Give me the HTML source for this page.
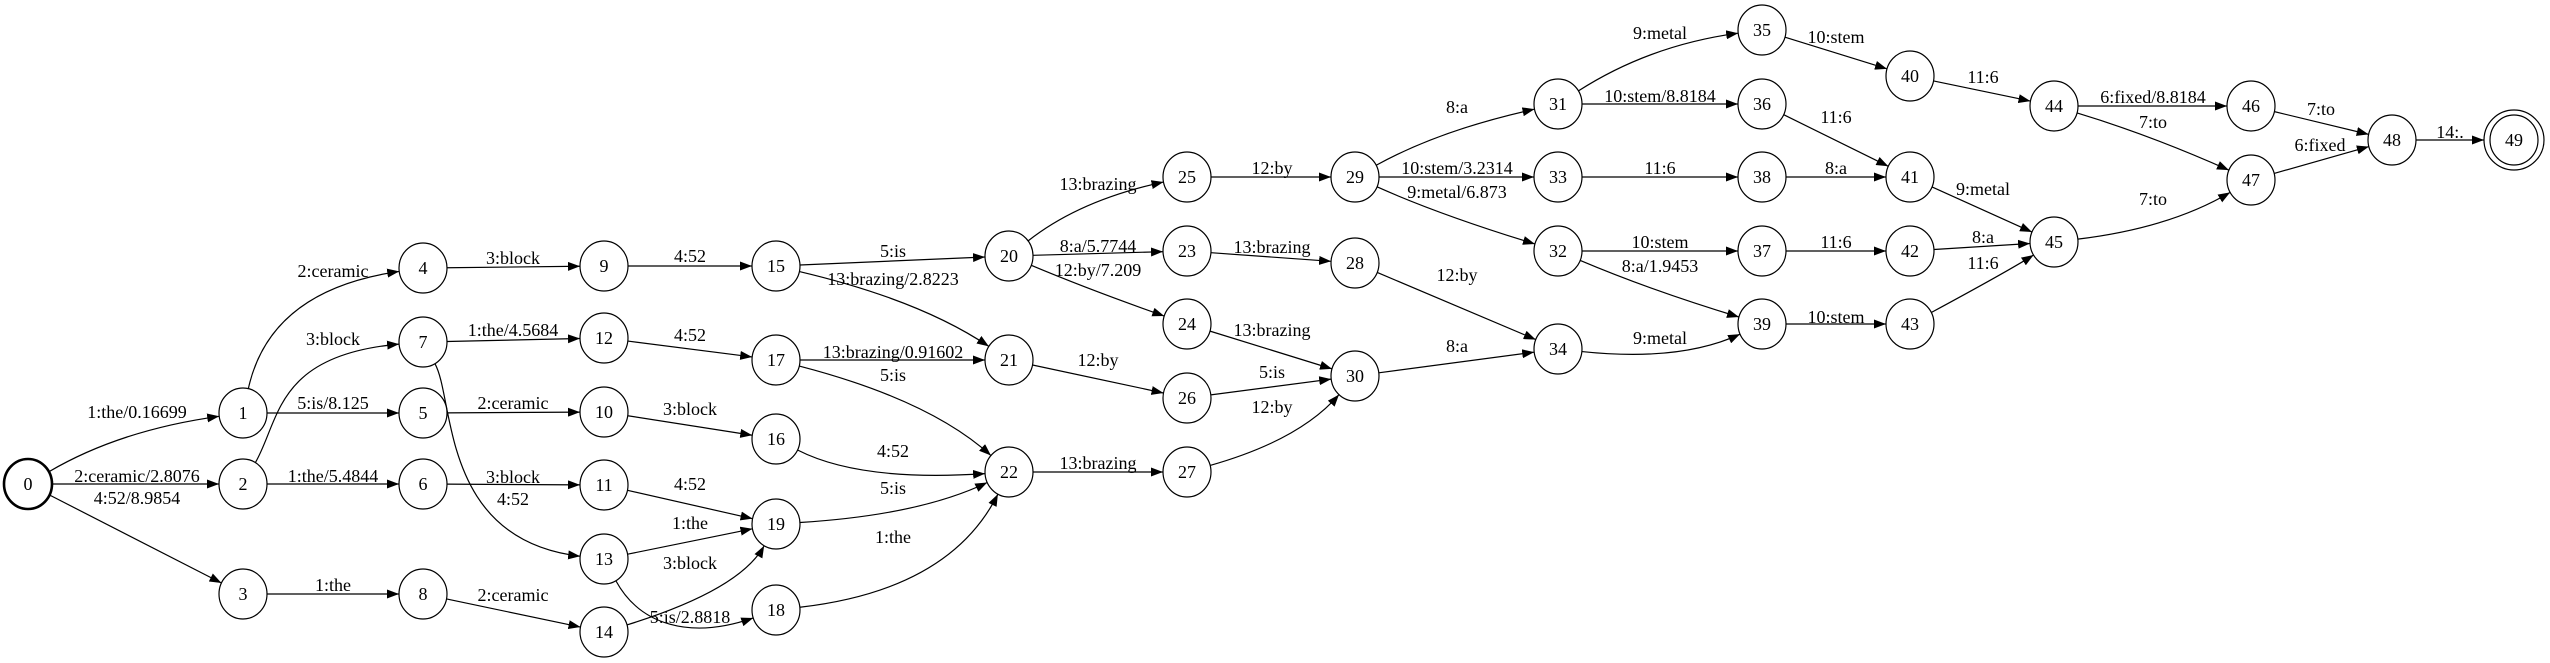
<!DOCTYPE html>
<html><head><meta charset="utf-8"><style>
html,body{margin:0;padding:0;background:#fff;}
svg{display:block}
text{font-family:"Liberation Serif",serif;font-size:18px;fill:#000;text-anchor:middle;}
</style></head><body>
<svg id="g" width="2550" height="663" viewBox="0 0 2550 663" xmlns="http://www.w3.org/2000/svg">
<defs><marker id="a" markerWidth="12" markerHeight="9" refX="12" refY="4.5" orient="auto" markerUnits="userSpaceOnUse"><path d="M0,0 L12,4.5 L0,9 z" fill="#000"/></marker></defs>
<g id="edges" fill="none" stroke="#000" stroke-width="1.2"></g>
<g id="nodes" fill="#fff" stroke="#000" stroke-width="1.2"></g>
<g id="nl">
<text x="28" y="490">0</text><text x="243" y="419">1</text><text x="243" y="490">2</text><text x="243" y="600">3</text>
<text x="423" y="274">4</text><text x="423" y="419">5</text><text x="423" y="490">6</text><text x="423" y="348">7</text><text x="423" y="600">8</text>
<text x="604" y="272">9</text><text x="604" y="418">10</text><text x="604" y="491">11</text><text x="604" y="344">12</text><text x="604" y="565">13</text><text x="604" y="638">14</text>
<text x="776" y="272">15</text><text x="776" y="445">16</text><text x="776" y="366">17</text><text x="776" y="616">18</text><text x="776" y="530">19</text>
<text x="1009" y="262">20</text><text x="1009" y="366">21</text><text x="1009" y="478">22</text>
<text x="1187" y="257">23</text><text x="1187" y="330">24</text><text x="1187" y="183">25</text><text x="1187" y="404">26</text><text x="1187" y="478">27</text>
<text x="1355" y="269">28</text><text x="1355" y="183">29</text><text x="1355" y="382">30</text>
<text x="1558" y="110">31</text><text x="1558" y="257">32</text><text x="1558" y="183">33</text><text x="1558" y="355">34</text>
<text x="1762" y="36">35</text><text x="1762" y="110">36</text><text x="1762" y="257">37</text><text x="1762" y="183">38</text><text x="1762" y="330">39</text>
<text x="1910" y="82">40</text><text x="1910" y="183">41</text><text x="1910" y="257">42</text><text x="1910" y="330">43</text>
<text x="2054" y="112">44</text><text x="2054" y="248">45</text><text x="2251" y="112">46</text><text x="2251" y="186">47</text><text x="2392" y="146">48</text><text x="2514" y="146">49</text>
</g>
<g id="el">
<text x="137" y="418">1:the/0.16699</text><text x="137" y="482">2:ceramic/2.8076</text><text x="137" y="504">4:52/8.9854</text>
<text x="333" y="277">2:ceramic</text><text x="333" y="345">3:block</text><text x="333" y="409">5:is/8.125</text><text x="333" y="482">1:the/5.4844</text><text x="333" y="591">1:the</text>
<text x="513" y="264">3:block</text><text x="513" y="336">1:the/4.5684</text><text x="513" y="409">2:ceramic</text><text x="513" y="483">3:block</text><text x="513" y="505">4:52</text><text x="513" y="601">2:ceramic</text>
<text x="690" y="262">4:52</text><text x="690" y="341">4:52</text><text x="690" y="415">3:block</text><text x="690" y="490">4:52</text><text x="690" y="529">1:the</text><text x="690" y="569">3:block</text><text x="690" y="623">5:is/2.8818</text>
<text x="893" y="257">5:is</text><text x="893" y="285">13:brazing/2.8223</text><text x="893" y="358">13:brazing/0.91602</text><text x="893" y="381">5:is</text><text x="893" y="457">4:52</text><text x="893" y="494">5:is</text><text x="893" y="543">1:the</text>
<text x="1098" y="190">13:brazing</text><text x="1098" y="252">8:a/5.7744</text><text x="1098" y="276">12:by/7.209</text><text x="1098" y="366">12:by</text><text x="1098" y="469">13:brazing</text>
<text x="1272" y="174">12:by</text><text x="1272" y="253">13:brazing</text><text x="1272" y="336">13:brazing</text><text x="1272" y="378">5:is</text><text x="1272" y="413">12:by</text>
<text x="1457" y="113">8:a</text><text x="1457" y="174">10:stem/3.2314</text><text x="1457" y="198">9:metal/6.873</text><text x="1457" y="281">12:by</text><text x="1457" y="352">8:a</text>
<text x="1660" y="39">9:metal</text><text x="1660" y="102">10:stem/8.8184</text><text x="1660" y="174">11:6</text><text x="1660" y="248">10:stem</text><text x="1660" y="272">8:a/1.9453</text><text x="1660" y="344">9:metal</text>
<text x="1836" y="43">10:stem</text><text x="1836" y="123">11:6</text><text x="1836" y="174">8:a</text><text x="1836" y="248">11:6</text><text x="1836" y="323">10:stem</text>
<text x="1983" y="83">11:6</text><text x="1983" y="195">9:metal</text><text x="1983" y="243">8:a</text><text x="1983" y="269">11:6</text>
<text x="2153" y="103">6:fixed/8.8184</text><text x="2153" y="128">7:to</text><text x="2153" y="205">7:to</text><text x="2321" y="115">7:to</text><text x="2320" y="151">6:fixed</text><text x="2450" y="138">14:.</text>
</g>
</svg>
<script>
var N={0:[28,484],1:[243,413],2:[243,484],3:[243,594],4:[423,268],5:[423,413],6:[423,484],7:[423,342],8:[423,594],9:[604,266],10:[604,412],11:[604,485],12:[604,338],13:[604,559],14:[604,632],15:[776,266],16:[776,439],17:[776,360],18:[776,610],19:[776,524],20:[1009,256],21:[1009,360],22:[1009,472],23:[1187,251],24:[1187,324],25:[1187,177],26:[1187,398],27:[1187,472],28:[1355,263],29:[1355,177],30:[1355,376],31:[1558,104],32:[1558,251],33:[1558,177],34:[1558,349],35:[1762,30],36:[1762,104],37:[1762,251],38:[1762,177],39:[1762,324],40:[1910,76],41:[1910,177],42:[1910,251],43:[1910,324],44:[2054,106],45:[2054,242],46:[2251,106],47:[2251,180],48:[2392,140],49:[2514,140]};
var RX=24,RY=25;
var E=[[0,1,[120,430]],[0,2],[0,3],[1,4,[270,290]],[1,5],[2,7,[280,420],[275,355]],[2,6],[3,8],[4,9],[5,10],[6,11],[7,12],[7,13,[455,400],[440,540]],[8,14],[9,15],[10,16],[11,19],[12,17],[13,19],[13,18,[640,625],[690,640]],[14,19,[740,590]],[15,20],[15,21,[920,300]],[16,22,[860,482]],[17,21],[17,22,[930,400]],[18,22,[950,590]],[19,22,[920,515]],[20,25,[1080,200]],[20,23],[20,24,[1090,290]],[21,26],[22,27],[23,28],[24,30],[25,29],[26,30],[27,30,[1300,440]],[28,34],[29,31,[1440,130]],[29,33],[29,32,[1440,215]],[30,34],[31,35,[1650,45]],[31,36],[32,37],[32,39,[1650,290]],[33,38],[34,39,[1680,362]],[35,40],[36,41],[37,42],[38,41],[39,43],[40,44],[41,45],[42,45],[43,45,[2010,270]],[44,46],[44,47,[2150,135]],[45,47,[2170,228]],[46,48],[47,48],[48,49]];
function bd(c,t,r){var dx=t[0]-c[0],dy=t[1]-c[1];var k=1/Math.sqrt(dx*dx/(r[0]*r[0])+dy*dy/(r[1]*r[1]));return [c[0]+dx*k,c[1]+dy*k];}
var eg=document.getElementById('edges'),ng=document.getElementById('nodes'),ns="http://www.w3.org/2000/svg";
E.forEach(function(e){var a=N[e[0]],b=N[e[1]],c1=e[2],c2=e[3];var rb=e[1]==49?[30,30]:[RX,RY];
var s=bd(a,c1||b,[RX,RY]),t=bd(b,c2||c1||a,rb);var d;
if(c2)d="M"+s+" C"+c1+" "+c2+" "+t;else if(c1)d="M"+s+" Q"+c1+" "+t;else d="M"+s+" L"+t;
var p=document.createElementNS(ns,"path");p.setAttribute("d",d);p.setAttribute("marker-end","url(#a)");eg.appendChild(p);});
for(var k in N){var el=document.createElementNS(ns,"ellipse");el.setAttribute("cx",N[k][0]);el.setAttribute("cy",N[k][1]);el.setAttribute("rx",RX);el.setAttribute("ry",RY);if(k==0)el.setAttribute("stroke-width","2.6");ng.appendChild(el);
if(k==49){var o=document.createElementNS(ns,"ellipse");o.setAttribute("cx",N[k][0]);o.setAttribute("cy",N[k][1]);o.setAttribute("rx",30);o.setAttribute("ry",30);o.setAttribute("fill","none");ng.appendChild(o);}}
</script>
</body></html>
